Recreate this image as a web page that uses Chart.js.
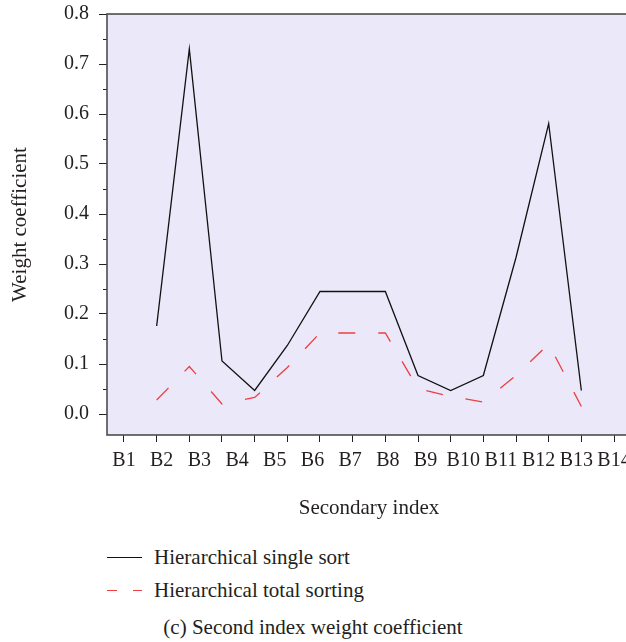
<!DOCTYPE html>
<html>
<head>
<meta charset="utf-8">
<script src="https://cdn.jsdelivr.net/npm/chart.js@4/dist/chart.umd.min.js"></script>
<style>
  html, body { margin: 0; padding: 0; background: #fff; }
  #wrap { position: relative; width: 626px; height: 642px; overflow: hidden; }
  #chartBox { position: absolute; left: 0; top: 0; width: 680px; height: 530px; }
  .txt { font-family: 'Liberation Serif', 'Times New Roman', serif; font-size: 21px; color: #231f20; position: absolute; white-space: nowrap; line-height: 26px; }
  .sample { position: absolute; left: 107px; width: 35px; height: 0; }
</style>
</head>
<body>
<div id="wrap">
  <div id="chartBox"><canvas id="c" width="680" height="530"></canvas></div>
  <div id="legend"></div>
  <div class="txt" id="caption" style="left:0; width:626px; text-align:center; top:614px;"></div>
</div>
<script>
// ---- data ----
const categories = ['B1','B2','B3','B4','B5','B6','B7','B8','B9','B10','B11','B12','B13','B14'];
const singleSort = [0.176, 0.730, 0.106, 0.047, 0.137, 0.245, 0.245, 0.245, 0.077, 0.047, 0.077, 0.313, 0.581, 0.047];
const totalSort  = [0.028, 0.095, 0.020, 0.033, 0.093, 0.162, 0.162, 0.162, 0.051, 0.035, 0.024, 0.077, 0.140, 0.015];
const seriesNames = ['Hierarchical single sort', 'Hierarchical total sorting'];
const yTicks = [0.0, 0.1, 0.2, 0.3, 0.4, 0.5, 0.6, 0.7, 0.8];
const yMinorTicks = [0.05, 0.15, 0.25, 0.35, 0.45, 0.55, 0.65, 0.75];
const xTickSlots = [1,2,3,4,5,6,7,8,9,10,11,12,13,14,15,16];
const xLabel = 'Secondary index';
const yLabel = 'Weight coefficient';
const caption = '(c) Second index weight coefficient';

// data points sit on tick slots 2..15 (one slot offset, as in the source figure)
const slotOffset = 2;
const toPoints = arr => arr.map((v, i) => ({ x: i + slotOffset, y: v }));

const FONT = "'Liberation Serif', 'Times New Roman', serif";
const TXT = '#231f20';
const RED = 'rgb(240,62,62)';

const framePlugin = {
  id: 'frame',
  beforeDraw(chart) {
    const { ctx, chartArea: a } = chart;
    ctx.save();
    ctx.fillStyle = 'rgb(234,232,249)';
    ctx.fillRect(a.left, a.top, a.right - a.left, a.bottom - a.top);
    ctx.restore();
  },
  afterDraw(chart) {
    const { ctx, chartArea: a } = chart;
    const ys = chart.scales.y;
    ctx.save();
    ctx.strokeStyle = '#222';
    ctx.lineWidth = 1;
    yMinorTicks.forEach(v => {
      const p = Math.round(ys.getPixelForValue(v)) + 0.5;
      ctx.beginPath();
      ctx.moveTo(a.left - 4, p);
      ctx.lineTo(a.left, p);
      ctx.stroke();
    });
    ctx.strokeStyle = '#4d4d4d';
    ctx.lineWidth = 1.6;
    ctx.strokeRect(a.left, a.top, a.right - a.left, a.bottom - a.top);
    ctx.restore();
  }
};

new Chart(document.getElementById('c'), {
  type: 'line',
  data: {
    datasets: [
      { label: seriesNames[0], data: toPoints(singleSort), borderColor: '#111', borderWidth: 1.3, pointRadius: 0, tension: 0, fill: false },
      { label: seriesNames[1], data: toPoints(totalSort), borderColor: RED, borderWidth: 1.3, borderDash: [17, 23], pointRadius: 0, tension: 0, fill: false }
    ]
  },
  options: {
    responsive: false,
    animation: false,
    devicePixelRatio: 1,
    layout: { padding: { top: 14, right: 49, left: 0, bottom: 0 } },
    plugins: { legend: { display: false }, tooltip: { enabled: false } },
    scales: {
      x: {
        type: 'linear', position: 'bottom', weight: 0,
        min: 0.48, max: 16.52,
        afterBuildTicks: s => { s.ticks = xTickSlots.map(v => ({ value: v })); },
        afterFit: s => { s.height = 8; s.paddingLeft = 0; s.paddingRight = 0; },
        ticks: { display: false },
        grid: { display: true, drawOnChartArea: false, drawTicks: true, tickLength: 7, tickColor: '#222', tickWidth: 1 },
        border: { display: false }
      },
      x2: {
        type: 'linear', position: 'bottom', weight: 1,
        min: 0.549, max: 14.451,
        afterBuildTicks: s => { s.ticks = categories.map((c, i) => ({ value: i + 1 })); },
        afterFit: s => { s.height = 87; s.paddingLeft = 0; s.paddingRight = 0; },
        ticks: {
          autoSkip: false, maxRotation: 0, padding: 6,
          font: { family: FONT, size: 20 }, color: TXT,
          callback: v => categories[Math.round(v) - 1]
        },
        grid: { display: false, drawTicks: false },
        border: { display: false },
        title: { display: true, text: xLabel, font: { family: FONT, size: 21 }, color: TXT, padding: { top: 0, bottom: 9 } }
      },
      y: {
        type: 'linear', position: 'left',
        min: -0.042, max: 0.8,
        afterBuildTicks: s => { s.ticks = yTicks.map(v => ({ value: v })); },
        afterFit: s => { s.width = 107; s.paddingTop = 0; s.paddingBottom = 0; },
        ticks: {
          padding: 10, font: { family: FONT, size: 20 }, color: TXT,
          callback: v => Number(v).toFixed(1)
        },
        grid: { display: true, drawOnChartArea: false, drawTicks: true, tickLength: 8, tickColor: '#222', tickWidth: 1 },
        border: { display: false },
        title: { display: true, text: yLabel, font: { family: FONT, size: 21 }, color: TXT, padding: { top: 8, bottom: 0 } }
      }
    }
  },
  plugins: [framePlugin]
});

// ---- HTML legend and caption ----
const legend = document.getElementById('legend');
const legendTops = [544, 577];
seriesNames.forEach((name, i) => {
  const s = document.createElement('div');
  s.className = 'sample';
  s.style.top = (legendTops[i] + 13) + 'px';
  if (i === 0) {
    s.style.borderTop = '1.3px solid #111';
  } else {
    s.style.height = '1.3px';
    s.style.background = 'linear-gradient(to right, ' + RED + ' 0 10px, transparent 10px 26px, ' + RED + ' 26px 35px)';
  }
  legend.appendChild(s);
  const t = document.createElement('div');
  t.className = 'txt';
  t.style.left = '154px';
  t.style.top = legendTops[i] + 'px';
  t.textContent = name;
  legend.appendChild(t);
});
document.getElementById('caption').textContent = caption;
</script>
</body>
</html>
